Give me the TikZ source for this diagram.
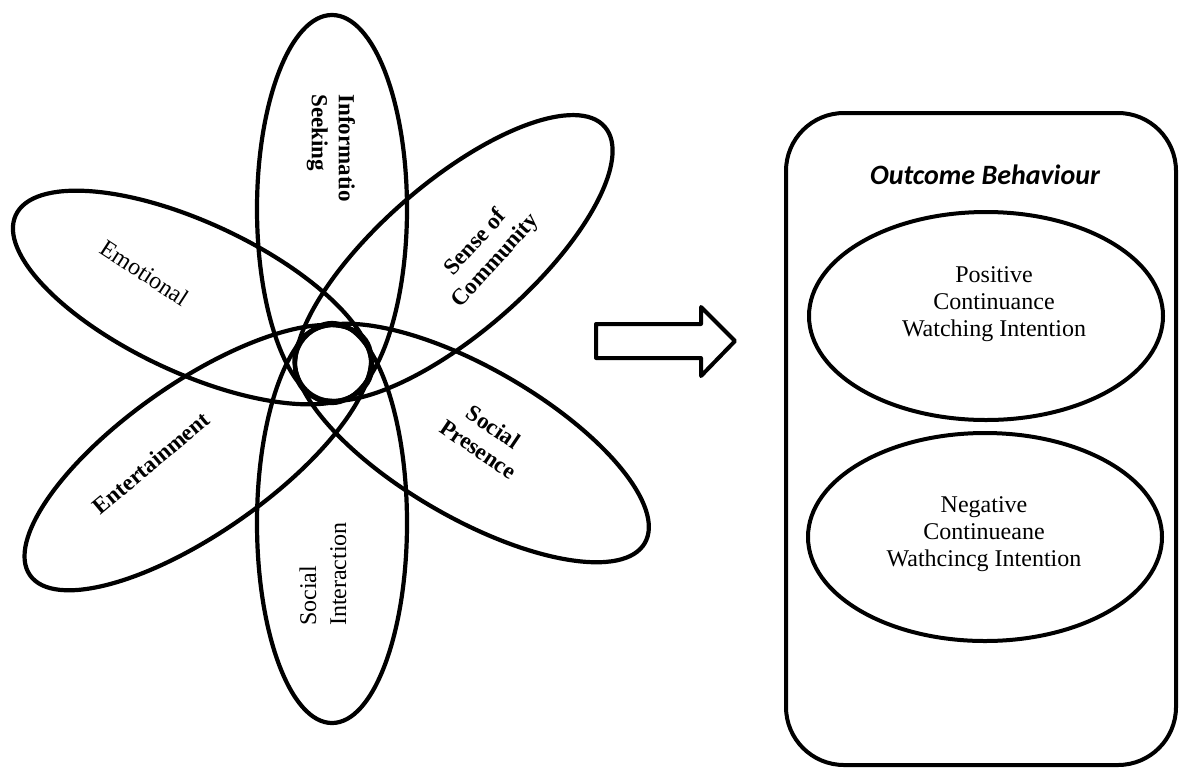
\documentclass[tikz,border=0pt]{standalone}
\usepackage{fontspec}
\setmainfont{Liberation Serif}
\newfontfamily\calibri{Carlito}
\usetikzlibrary{shapes.geometric}
\begin{document}
\begin{tikzpicture}[x=0.5pt,y=0.5pt,
  petal/.style={draw=black, line width=2.1pt},
  lbl/.style={font=\fontsize{12pt}{13.5pt}\selectfont, inner sep=0pt},
  blbl/.style={font=\fontsize{11.5pt}{13.5pt}\selectfont\bfseries, inner sep=0pt},
  outell/.style={draw=black, line width=2pt, ellipse, minimum width=177pt, minimum height=104pt, inner sep=0pt}]
\useasboundingbox (0,0) rectangle (1182,-772);

% right box
\node[draw=black, line width=2pt, rounded corners=29pt, minimum width=195pt, minimum height=326pt, inner sep=0pt] (box) at (981,-439) {};
\node[font=\fontsize{14pt}{16pt}\selectfont\calibri\bfseries\itshape, inner sep=0pt] (title) at (985,-175) {Outcome Behaviour};
\node[outell] (pos) at (986,-316) {};
\node[outell] (neg) at (985,-537) {};
\node[lbl, align=center] (postxt) at (994,-304) {Positive\\Continuance\\Watching Intention};
\node[lbl, align=center] (negtxt) at (984,-534) {Negative\\Continueane\\Wathcincg Intention};

% block arrow
\draw[line width=2pt, line join=round] (596,-324) -- (701,-324) -- (701,-307) -- (735,-341) -- (701,-376) -- (701,-358) -- (596,-358) -- cycle;

% petals
\draw[petal] (332,-209) ellipse [x radius=75, y radius=194];
\draw[petal] (332,-523) ellipse [x radius=75, y radius=200];
\draw[petal, rotate around={-25:(192.5,-297.5)}] (192.5,-297.5) ellipse [x radius=195, y radius=75];
\draw[petal, rotate around={41:(453.8,-258)}] (453.8,-258) ellipse [x radius=200, y radius=75];
\draw[petal, rotate around={35:(197.9,-457.6)}] (197.9,-457.6) ellipse [x radius=205, y radius=75];
\draw[petal, rotate around={-30:(471.6,-443)}] (471.6,-443) ellipse [x radius=200, y radius=75];
\draw[petal] (333,-363) circle [radius=38];

% labels
\node[blbl, rotate=-90, align=left] (info) at (331,-148) {Informatio\\Seeking};
\node[lbl, rotate=-33] (emo) at (145,-273) {Emotional};
\node[blbl, rotate=48, align=center] (soc) at (486,-252) {Sense of\\Community};
\node[blbl, rotate=40] (ent) at (151,-463) {Entertainment};
\node[blbl, rotate=-34, align=center] (sp) at (486,-438) {Social\\Presence};
\node[lbl, rotate=90, align=left, font=\fontsize{12pt}{15pt}\selectfont] (si) at (323,-574) {Social\\Interaction};
\end{tikzpicture}
\end{document}
